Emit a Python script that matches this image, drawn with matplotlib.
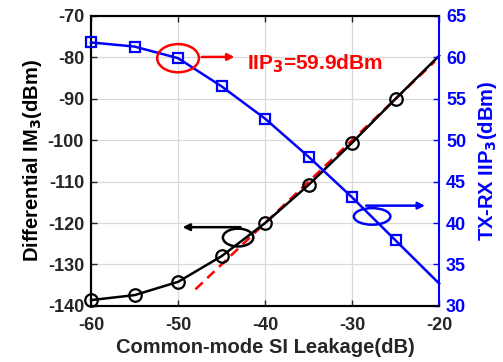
import matplotlib
matplotlib.use("Agg")
import matplotlib.pyplot as plt
from matplotlib.patches import Ellipse

plt.rcParams['font.family'] = ['Liberation Sans', 'DejaVu Sans']
plt.rcParams['font.weight'] = 'bold'
plt.rcParams['axes.unicode_minus'] = False

# Data
leakage = [-60, -55, -50, -45, -40, -35, -30, -25, -20]
im3 = [-138.6, -137.4, -134.2, -128.0, -120.0, -110.8, -100.6, -90.0, -79.6]
iip3 = [61.8, 61.3, 59.9, 56.5, 52.6, 48.0, 43.1, 37.9, 32.7]
fit_x = [-48.0, -20.5]
fit_y = [-136.0, -81.0]

xticks = [-60, -50, -40, -30, -20]
lticks = [-140, -130, -120, -110, -100, -90, -80, -70]
rticks = [30, 35, 40, 45, 50, 55, 60, 65]

BLUE = '#0000ff'
DARK = '#262626'

fig = plt.figure(figsize=(5.03, 3.62), dpi=100)
ax = fig.add_axes([0.181, 0.155, 0.692, 0.801])
ax2 = ax.twinx()

ax.set_xlim(-60, -20)
ax.set_ylim(-140, -70)
ax2.set_ylim(30, 65)
ax.set_xticks(xticks)
ax.set_yticks(lticks)
ax2.set_yticks(rticks)
ax.grid(True, color='#d9d9d9', linewidth=0.9)
ax.set_axisbelow(True)

ax.plot(fit_x, fit_y, color='red', linestyle=(0, (4, 2.5)), linewidth=1.8, zorder=2)
ax.plot(leakage, im3, color='black', linewidth=1.8, marker='o', markersize=9,
        markerfacecolor='none', markeredgewidth=1.6, markevery=list(range(8)),
        clip_on=False, zorder=3)
ax2.plot(leakage, iip3, color=BLUE, linewidth=1.8, marker='s', markersize=7,
         markerfacecolor='none', markeredgewidth=1.6, markevery=list(range(8)),
         clip_on=False, zorder=3)

# annotations
ax2.add_patch(Ellipse((-50.0, 59.9), 4.8, 3.4, fill=False, edgecolor='red', linewidth=1.8, zorder=5))
ax2.annotate('', xy=(-43.2, 60.05), xytext=(-47.6, 60.05),
             arrowprops=dict(arrowstyle='-|>', color='red', lw=1.8, mutation_scale=10))
ax2.text(-42.1, 58.5, 'IIP$_\\mathbf{3}$=59.9dBm', color='red', fontsize=15,
         fontweight='bold', va='baseline', ha='left')

ax.add_patch(Ellipse((-43.1, -123.5), 3.5, 4.3, fill=False, edgecolor='black', linewidth=1.8, zorder=5))
ax.annotate('', xy=(-49.8, -121.0), xytext=(-42.5, -121.0),
            arrowprops=dict(arrowstyle='-|>', color='black', lw=1.8, mutation_scale=10))

ax2.add_patch(Ellipse((-27.7, 40.8), 4.2, 2.0, fill=False, edgecolor=BLUE, linewidth=1.8, zorder=5))
ax2.annotate('', xy=(-21.3, 42.1), xytext=(-28.7, 42.1),
             arrowprops=dict(arrowstyle='-|>', color=BLUE, lw=1.8, mutation_scale=10))

# styling
for s in ['left', 'bottom', 'top']:
    ax.spines[s].set_linewidth(1.5)
    ax.spines[s].set_color('black')
    ax2.spines[s].set_linewidth(1.5)
    ax2.spines[s].set_color('black')
ax2.spines['right'].set_color(BLUE)
ax2.spines['right'].set_linewidth(1.5)
ax.spines['right'].set_visible(False)

ax.tick_params(axis='x', direction='in', labelsize=13, colors=DARK, width=1, length=4,
               top=True, pad=8)
ax.tick_params(axis='y', direction='in', labelsize=13, colors=DARK, width=1, length=4, pad=5)
ax2.tick_params(axis='y', direction='in', labelsize=13, colors=BLUE, width=1, length=4, pad=5)
for lab in ax.get_xticklabels() + ax.get_yticklabels() + ax2.get_yticklabels():
    lab.set_fontweight('bold')

ax.set_xlabel('Common-mode SI Leakage(dB)', fontsize=14.5, fontweight='bold', color=DARK, labelpad=3)
ax.set_ylabel('Differential IM$_\\mathbf{3}$(dBm)', fontsize=14.5, fontweight='bold', color='black', labelpad=3)
ax2.set_ylabel('TX-RX IIP$_\\mathbf{3}$(dBm)', fontsize=14.5, fontweight='bold', color=BLUE, labelpad=7)

fig.savefig('out.png', dpi=100)
